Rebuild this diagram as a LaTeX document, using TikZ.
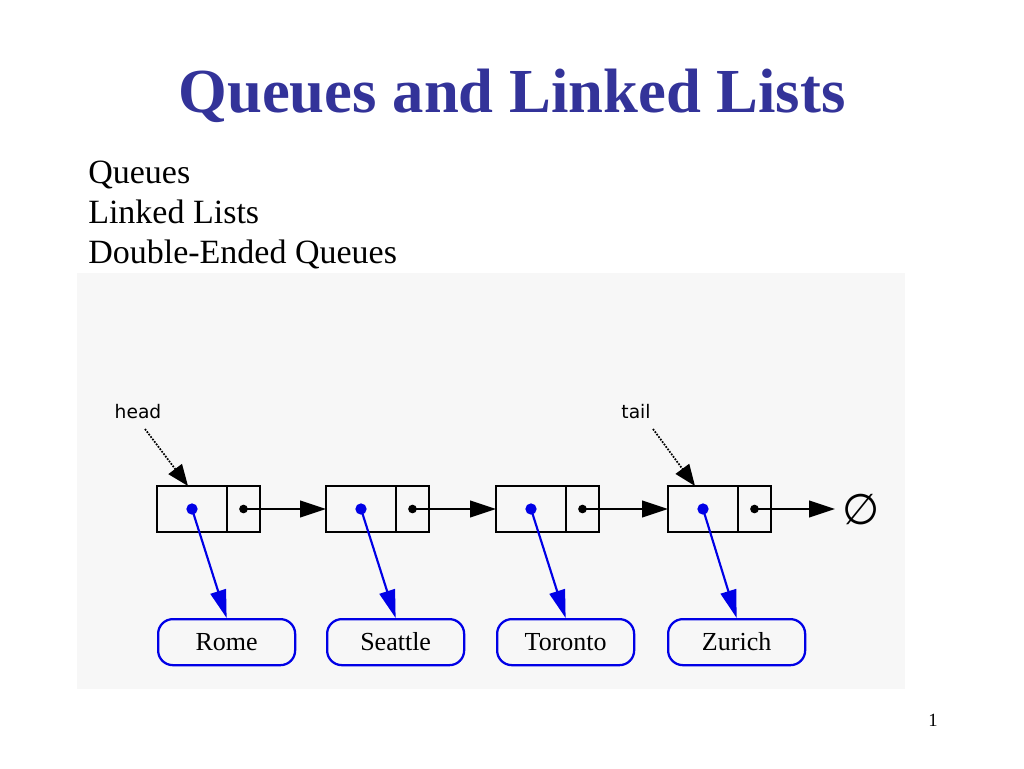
\documentclass[tikz,border=0pt]{standalone}
\usepackage{fontspec}
\setmainfont{Liberation Serif}
\newfontfamily\lblfont{DejaVu Sans}
\newfontfamily\symfont{DejaVu Sans}
\usetikzlibrary{arrows.meta}
\definecolor{titleblue}{RGB}{51,51,153}
\definecolor{panelgray}{RGB}{247,247,247}
\definecolor{linkblue}{RGB}{0,0,230}
\begin{document}
\begin{tikzpicture}[x=0.75pt,y=-0.75pt,
  cellbox/.style={draw=black,line width=2.1pt,fill=panelgray,minimum height=34.5pt,inner sep=0pt,outer sep=0pt},
  citybox/.style={draw=linkblue,line width=1.7pt,rounded corners=11pt,minimum width=102.75pt,minimum height=34.5pt,inner sep=0pt,text height=15pt,text depth=2pt,font=\fontsize{19.5}{22}\selectfont},
  nextarrow/.style={draw=black,line width=1.5pt,-{Triangle[length=19.5pt,width=12.5pt]}},
  elemarrow/.style={draw=linkblue,line width=1.6pt,-{Triangle[length=21pt,width=12pt]}},
  ptrarrow/.style={draw=black,line width=1.3pt,densely dotted,-{Triangle[length=16pt,width=12.5pt,sep=0pt]}},
  lbl/.style={font=\lblfont\fontsize{14}{16}\selectfont,inner sep=0pt},
  bluedot/.style={circle,fill=linkblue,minimum size=8.5pt,inner sep=0pt},
  blackdot/.style={circle,fill=black,minimum size=6.5pt,inner sep=0pt}
]
\useasboundingbox (0,0) rectangle (1024,768);
\fill[white] (0,0) rectangle (1024,768);
% title
\node[text=titleblue,font=\fontsize{47}{56}\bfseries\selectfont,anchor=base] (title) at (512,112) {Queues and Linked Lists};
% bullet text
\node[anchor=base west,font=\fontsize{25.5}{30}\selectfont,inner sep=0pt] (t1) at (88,183) {Queues};
\node[anchor=base west,font=\fontsize{25.5}{30}\selectfont,inner sep=0pt] (t2) at (88,223) {Linked Lists};
\node[anchor=base west,font=\fontsize{25.5}{30}\selectfont,inner sep=0pt] (t3) at (88,263) {Double-Ended Queues};
% page number
\node[font=\fontsize{14}{16}\selectfont,anchor=base] (pnum) at (933,726) {1};
% panel
\fill[panelgray] (77,273) rectangle (905,689);
% list nodes
\foreach \i/\x in {1/157,2/326,3/496,4/668}{
  \node[cellbox,minimum width=52.5pt,anchor=north west] (e\i) at (\x,486) {};
  \node[cellbox,minimum width=24.75pt,anchor=north west] (n\i) at (\x+70,486) {};
  \node[bluedot] (bd\i) at (e\i.center) {};
  \node[blackdot] (kd\i) at (n\i.center) {};
}
% city nodes
\node[citybox,anchor=north west] (c1) at (157,618) {Rome};
\node[citybox,anchor=north west] (c2) at (326,618) {Seattle};
\node[citybox,anchor=north west] (c3) at (496,618) {Toronto};
\node[citybox,anchor=north west] (c4) at (667,618) {Zurich};
% null
\node[font=\symfont\fontsize{32}{36}\selectfont,inner sep=0pt] (null) at (861,510) {∅};
\coordinate (nullend) at (835,509);
% next links
\draw[nextarrow] (kd1.center) -- (e2.west);
\draw[nextarrow] (kd2.center) -- (e3.west);
\draw[nextarrow] (kd3.center) -- (e4.west);
\draw[nextarrow] (kd4.center) -- (nullend);
% element links
\foreach \i in {1,2,3,4}{
  \draw[elemarrow] (bd\i.center) -- (c\i.north);
}
% head / tail
\node[lbl] (head) at (138,412) {head};
\node[lbl] (tail) at (636,412) {tail};
\coordinate (hs) at (145,429);
\coordinate (ht) at (188,486);
\coordinate (ts) at (653,429);
\coordinate (tt) at (695,486);
\draw[ptrarrow] (hs) -- (ht);
\draw[ptrarrow] (ts) -- (tt);
\end{tikzpicture}
\end{document}
